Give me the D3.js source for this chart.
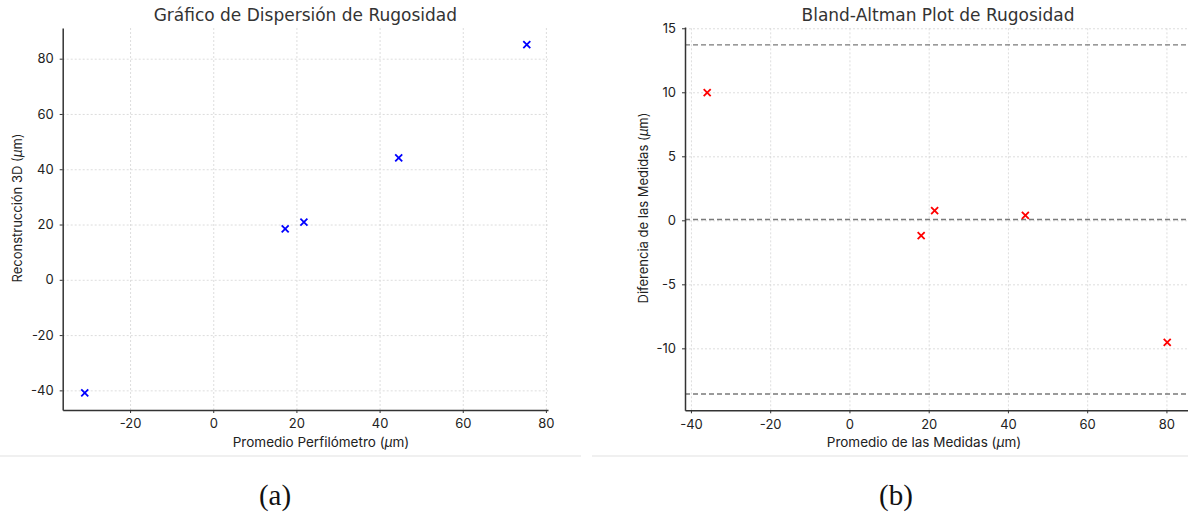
<!DOCTYPE html>
<html>
<head>
<meta charset="utf-8">
<script src="https://cdn.jsdelivr.net/npm/d3@7"></script>
<style>
  body { margin: 0; background: #fff; }
  svg { display: block; }
  .tick text { font-family: Inter, "Noto Sans", sans-serif; font-size: 13px; fill: #222; }
  .grid line { stroke: #d4d4d4; stroke-width: 0.8; stroke-dasharray: 2,2; }
  .grid path { display: none; }
</style>
</head>
<body>
<script>
// Scatter plot values (left panel)
const perfilometro = [-30.9, 17.3, 21.8, 44.6, 75.4];
const reconstruccion = [-40.9, 18.4, 20.9, 44.1, 85.1];
const ticksLeftX = [-20, 0, 20, 40, 60, 80];
const ticksLeftY = [-40, -20, 0, 20, 40, 60, 80];

// Bland-Altman values (right panel)
const promedioMedidas = [-35.9, 18.1, 21.5, 44.4, 80.2];
const diferenciaMedidas = [9.98, -1.2, 0.76, 0.39, -9.53];
const limitLines = [13.7, 0.06, -13.57];
const ticksRightX = [-40, -20, 0, 20, 40, 60, 80];
const ticksRightY = [-10, -5, 0, 5, 10, 15];

const W = 1188, H = 514;
const svg = d3.select("body").append("svg").attr("width", W).attr("height", H);

const xMark = "M-3.5,-3.5L3.5,3.5M-3.5,3.5L3.5,-3.5";

function panel(opt) {
  const x = d3.scaleLinear().domain(opt.xDomain).range(opt.xRange);
  const y = d3.scaleLinear().domain(opt.yDomain).range(opt.yRange);
  const g = svg.append("g");
  const clipId = opt.id + "-clip";
  svg.append("clipPath").attr("id", clipId).append("rect")
    .attr("x", opt.xRange[0]).attr("y", opt.yRange[1])
    .attr("width", opt.xRange[1] - opt.xRange[0])
    .attr("height", opt.yRange[0] - opt.yRange[1]);

  // grid
  g.append("g").attr("class", "grid")
    .attr("transform", "translate(0," + opt.yRange[0] + ")")
    .call(d3.axisBottom(x).tickValues(opt.xTicks).tickSize(-(opt.yRange[0] - opt.yRange[1])).tickFormat(""));
  g.append("g").attr("class", "grid")
    .attr("transform", "translate(" + opt.xRange[0] + ",0)")
    .call(d3.axisLeft(y).tickValues(opt.yTicks).tickSize(-(opt.xRange[1] - opt.xRange[0])).tickFormat(""));

  // extra lines (Bland-Altman limits)
  if (opt.hLines) {
    g.append("g").attr("clip-path", "url(#" + clipId + ")")
      .selectAll("line").data(opt.hLines).enter().append("line")
      .attr("x1", opt.xRange[0]).attr("x2", opt.xRange[1])
      .attr("y1", d => y(d)).attr("y2", d => y(d))
      .attr("stroke", "#7a7a7a").attr("stroke-width", 1.4)
      .attr("stroke-dasharray", "5,3");
  }

  // axes
  const fmt = d => String(d).replace("\u2212", "-");
  const xa = g.append("g")
    .attr("transform", "translate(0," + opt.yRange[0] + ")")
    .call(d3.axisBottom(x).tickValues(opt.xTicks).tickSize(3).tickPadding(6).tickFormat(fmt).tickSizeOuter(0));
  const ya = g.append("g")
    .attr("transform", "translate(" + opt.xRange[0] + ",0)")
    .call(d3.axisLeft(y).tickValues(opt.yTicks).tickSize(3).tickPadding(6).tickFormat(fmt).tickSizeOuter(0));
  [xa, ya].forEach(a => {
    a.select(".domain").attr("stroke", "#333").attr("stroke-width", 1.5);
    a.selectAll(".tick line").attr("stroke", "#333");
  });

  // markers
  g.append("g").selectAll("path").data(opt.xs).enter().append("path")
    .attr("d", xMark)
    .attr("transform", (d, i) => "translate(" + x(d) + "," + y(opt.ys[i]) + ")")
    .attr("stroke", opt.color).attr("stroke-width", 1.8).attr("fill", "none");

  // title
  svg.append("text")
    .attr("x", (opt.xRange[0] + opt.xRange[1]) / 2).attr("y", 21)
    .attr("text-anchor", "middle")
    .style("font-family", "'DejaVu Sans', sans-serif").style("font-size", "17px")
    .style("fill", "#333").text(opt.title);

  // axis labels
  const xl = svg.append("text")
    .attr("x", opt.xLabelX).attr("y", 447)
    .attr("text-anchor", "middle")
    .style("font-family", "Inter, 'Noto Sans', sans-serif").style("font-size", "13.5px").style("fill", "#222");
  xl.append("tspan").text(opt.xLabel + " (");
  xl.append("tspan").style("font-style", "italic").text("\u03bc");
  xl.append("tspan").text("m)");

  const yl = svg.append("text")
    .attr("transform", "translate(" + opt.yLabelX + ",208) rotate(-90)")
    .attr("text-anchor", "middle")
    .style("font-family", "Inter, 'Noto Sans', sans-serif").style("font-size", "13px").style("fill", "#222");
  yl.append("tspan").text(opt.yLabel + " (");
  yl.append("tspan").style("font-style", "italic").text("\u03bc");
  yl.append("tspan").text("m)");

  // separator and caption
  svg.append("line")
    .attr("x1", opt.sep[0]).attr("x2", opt.sep[1]).attr("y1", 456).attr("y2", 456)
    .attr("stroke", "#e2e2e2").attr("stroke-width", 1.2);
  svg.append("text")
    .attr("x", opt.captionX).attr("y", 505).attr("text-anchor", "middle")
    .style("font-family", "'Liberation Serif', 'DejaVu Serif', serif").style("font-size", "29px")
    .style("fill", "#111").text(opt.caption);
}

panel({
  id: "a",
  xDomain: [-36.2, 80.5], xRange: [62.7, 548],
  yDomain: [-47.1, 91.1], yRange: [410, 28],
  xTicks: ticksLeftX, yTicks: ticksLeftY,
  xs: perfilometro, ys: reconstruccion, color: "#0000ff",
  title: "Gráfico de Dispersión de Rugosidad",
  xLabel: "Promedio Perfilómetro", xLabelX: 321,
  yLabel: "Reconstrucción 3D", yLabelX: 22,
  sep: [0, 581], caption: "(a)", captionX: 275
});

panel({
  id: "b",
  xDomain: [-41.5, 86.2], xRange: [685, 1191],
  yDomain: [-14.84, 15.1], yRange: [410.3, 27],
  xTicks: ticksRightX, yTicks: ticksRightY,
  xs: promedioMedidas, ys: diferenciaMedidas, color: "#ff0000",
  hLines: limitLines,
  title: "Bland-Altman Plot de Rugosidad",
  xLabel: "Promedio de las Medidas", xLabelX: 924,
  yLabel: "Diferencia de las Medidas", yLabelX: 648,
  sep: [592, 1188], caption: "(b)", captionX: 896
});
</script>
</body>
</html>
